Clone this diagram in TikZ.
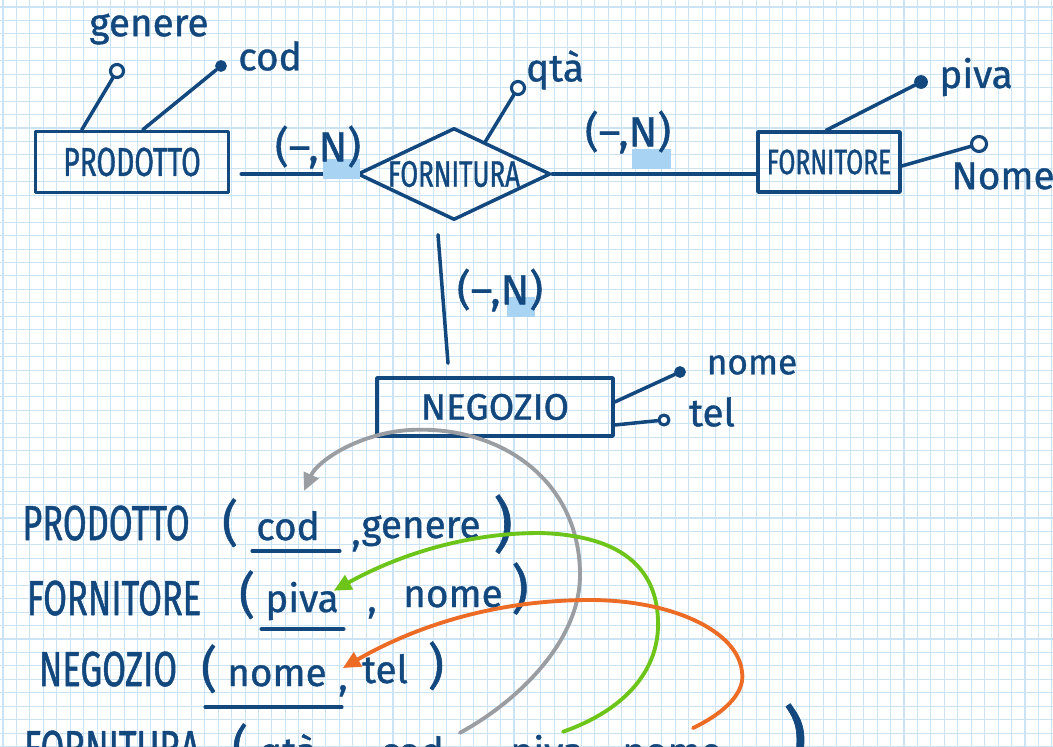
\documentclass[tikz,border=0pt]{standalone}
\usepackage{fontspec}
\setmainfont{Fira Sans}[FakeBold=1]
\newfontfamily\handcaps{Fira Sans}[FakeStretch=0.7,FakeBold=1]
\usetikzlibrary{shapes.geometric,calc,arrows.meta}
\definecolor{ink}{HTML}{12487D}
\definecolor{sheet}{HTML}{CBE4F5}
\definecolor{marker}{HTML}{A9D3F3}
\definecolor{fkgrey}{HTML}{9A9EA2}
\definecolor{fkgreen}{HTML}{6DC51A}
\definecolor{fkorange}{HTML}{EC6B25}
\tikzset{
  caps/.style={text=ink, inner sep=1pt, font=\handcaps\fontsize{#1}{#1}\selectfont},
  caps/.default=28pt,
  word/.style={text=ink, inner sep=1pt, font=\fontsize{#1}{#1}\selectfont},
  word/.default=22pt,
  entity/.style={draw=ink, line width=2pt, inner sep=0pt},
  relship/.style={diamond, draw=ink, line width=2pt, inner sep=0pt},
  attr/.style={circle, draw=ink, fill=white, line width=1.8pt, inner sep=0pt, minimum size=0.26cm},
  keyattr/.style={circle, draw=ink, fill=ink, line width=1pt, inner sep=0pt, minimum size=0.2cm},
  link/.style={draw=ink, line width=2pt},
  fk/.style={line width=2.2pt, -{Triangle[length=10pt,width=9pt]}},
}
\begin{document}
\begin{tikzpicture}[x=0.02cm, y=-0.02cm, line cap=round, line join=round]
  \useasboundingbox (0,0) rectangle (1053,746);
  \clip (0,0) rectangle (1053,746);
  \fill[white] (0,0) rectangle (1053,746);
  % squared paper
  \draw[sheet, line width=0.6pt, step=0.269cm, shift={(3,7)}] (-20,760) grid (1070,-20);

  % E-R diagram
  \node[entity, caps=23pt, minimum width=3.86cm, minimum height=1.22cm] (prodotto) at (132,162) {PRODOTTO};
  \node[relship, minimum width=3.86cm, minimum height=1.84cm, label={[caps=21pt]center:FORNITURA}] (fornitura) at (454,174) {};
  \node[entity, caps=20pt, minimum width=2.84cm, minimum height=1.2cm] (fornitore) at (829,162) {FORNITORE};
  \node[entity, word=21pt, minimum width=4.72cm, minimum height=1.16cm] (negozio) at (495,407) {NEGOZIO};

  \node[attr] (a-genere) at (117,71) {};
  \node[keyattr] (a-cod) at (221,66) {};
  \node[attr] (a-qta) at (518,88) {};
  \node[keyattr, minimum size=0.24cm] (a-piva) at (921,82) {};
  \node[attr, minimum size=0.3cm] (a-nome) at (979,144) {};
  \node[keyattr] (a-nomeneg) at (680,372) {};
  \node[attr, minimum size=0.2cm] (a-tel) at (664,420) {};

  \node[word] (l-genere) at (149,29) {genere};
  \node[word] (l-cod) at (270,56) {cod};
  \node[word] (l-qta) at (555,70) {qtà};
  \node[word] (l-piva) at (976,77) {piva};
  \node[word] (l-nome) at (1003,176) {Nome};
  \node[word=20pt] (l-nomeneg) at (752,365) {nome};
  \node[word] (l-tel) at (712,412) {tel};

  \draw[link] ($(prodotto.north west)+(48,0)$) -- (a-genere);
  \draw[link] ($(prodotto.north west)+(109,0)$) -- (a-cod);
  \draw[link] ($(fornitura.north)!0.32!(fornitura.east)$) -- (a-qta);
  \draw[link] ($(fornitore.north west)+(70,0)$) -- (a-piva);
  \draw[link] ($(fornitore.east)+(0,4)$) -- (a-nome);
  \draw[link] ($(negozio.east)+(0,-5)$) -- (a-nomeneg);
  \draw[link] ($(negozio.east)+(0,18)$) -- (a-tel);

  \draw[link] ($(prodotto.east |- fornitura.west)+(11,0)$) -- (fornitura.west);
  \draw[link] (fornitura.east) -- (fornitura.east -| fornitore.west);
  \draw[link] ($(fornitura.south)+(-16,13)$) -- ($(negozio.north)+(-47,-13)$);

  % cardinalities
  \fill[marker] (323,159) rectangle (360,179);
  \fill[marker] (632,149) rectangle (671,169);
  \fill[marker] (507,297) rectangle (535,317);
  \node[word=24pt] (card-prodotto) at (318,147) {(–,N)};
  \node[word=24pt] (card-fornitore) at (628,132) {(–,N)};
  \node[word=24pt] (card-negozio) at (500,290) {(–,N)};

  % relational schema
  \node[caps, anchor=base] (r-prodotto) at (106,540) {PRODOTTO};
  \node[word=28pt, anchor=base] (r1-open) at (230,540) {(};
  \node[word, anchor=base] (r1-cod) at (288,540) {cod};
  \node[word, anchor=base] (r1-comma) at (356,545) {,};
  \node[word, anchor=base] (r1-genere) at (421,538) {genere};
  \node[word=34pt, anchor=base] (r1-close) at (503,545) {)};
  \draw[link] ($(r1-cod.base west)+(-2,11)$) -- ($(r1-cod.base east)+(18,11)$);

  \node[caps, anchor=base] (r-fornitore) at (114,615) {FORNITORE};
  \node[word=28pt, anchor=base] (r2-open) at (247,612) {(};
  \node[word, anchor=base] (r2-piva) at (302,612) {piva};
  \node[word, anchor=base] (r2-comma) at (372,612) {,};
  \node[word, anchor=base] (r2-nome) at (453,607) {nome};
  \node[word=30pt, anchor=base] (r2-close) at (520,607) {)};
  \draw[link] ($(r2-piva.base west)+(-2,17)$) -- ($(r2-piva.base east)+(3,17)$);

  \node[caps, anchor=base] (r-negozio) at (108,686) {NEGOZIO};
  \node[word=28pt, anchor=base] (r3-open) at (209,686) {(};
  \node[word, anchor=base] (r3-nome) at (277,686) {nome};
  \node[word, anchor=base] (r3-comma) at (343,690) {,};
  \node[word, anchor=base] (r3-tel) at (385,683) {tel};
  \node[word=28pt, anchor=base] (r3-close) at (436,683) {)};
  \draw[link] ($(r3-nome.base west)+(-20,21)$) -- ($(r3-nome.base east)+(13,21)$);

  \node[caps, anchor=base] (r-fornitura) at (112,765) {FORNITURA};
  \node[word=28pt, anchor=base] (r4-open) at (240,765) {(};
  \node[word, anchor=base] (r4-qta) at (288,765) {qtà};
  \node[word, anchor=base] (r4-comma1) at (338,765) {,};
  \node[word, anchor=base] (r4-cod) at (412,765) {cod};
  \node[word, anchor=base] (r4-comma2) at (470,765) {,};
  \node[word, anchor=base] (r4-piva) at (547,765) {piva};
  \node[word, anchor=base] (r4-comma3) at (605,765) {,};
  \node[word, anchor=base] (r4-nome) at (672,765) {nome};
  \node[word=42pt, anchor=base] (r4-close) at (795,766) {)};

  % foreign keys
  \draw[fk, fkgrey] ($(r4-cod.north east)+(14,-1)$)
    .. controls (520,700) and (580,640) .. (580,575)
    .. controls (580,480) and (500,425) .. (410,430)
    .. controls (360,433) and (318,460) .. ($(r1-cod.north)+(16,-18)$);
  \draw[fk, fkgreen] ($(r4-piva.north)+(16,-1)$)
    .. controls (625,710) and (660,670) .. (658,620)
    .. controls (656,560) and (610,535) .. (540,533)
    .. controls (450,533) and (380,565) .. ($(r2-piva.north east)+(-7,11)$);
  \draw[fk, fkorange] ($(r4-nome.north)+(21,-14)$)
    .. controls (730,710) and (745,690) .. (742,672)
    .. controls (738,630) and (670,600) .. (590,600)
    .. controls (480,600) and (400,635) .. ($(r3-nome.north east)+(14,5)$);
\end{tikzpicture}
\end{document}
